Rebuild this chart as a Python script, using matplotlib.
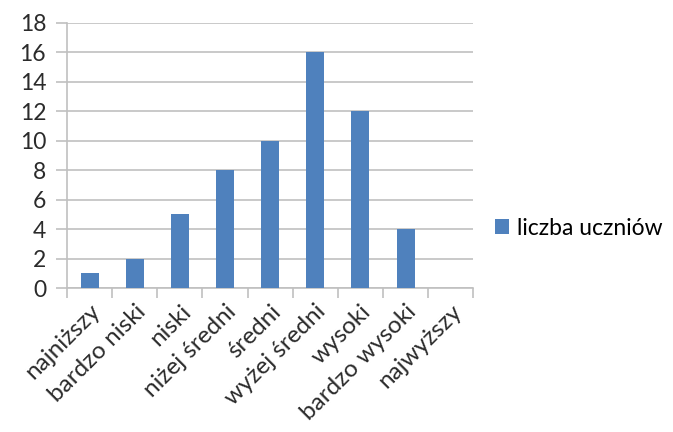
import matplotlib
matplotlib.use("Agg")
import matplotlib.pyplot as plt
import numpy as np

categories = ["najniższy", "bardzo niski", "niski", "niżej średni", "średni",
              "wyżej średni", "wysoki", "bardzo wysoki", "najwyższy"]
counts = [1, 2, 5, 8, 10, 16, 12, 4, 0]
series_name = "liczba uczniów"
y_ticks = list(range(0, 19, 2))

plt.rcParams['font.family'] = ['Lato', 'DejaVu Sans']

fig = plt.figure(figsize=(6.73, 4.32), dpi=100)
ax = fig.add_axes([0.0996, 0.333, 0.6036, 0.614])

x = np.arange(len(categories))
bars = ax.bar(x, counts, width=0.4, color="#4F81BD", zorder=3, label=series_name)

ax.set_xlim(-0.5, len(categories) - 0.5)
ax.set_ylim(0, 18)
ax.set_yticks(y_ticks)
ax.set_yticklabels([str(v) for v in y_ticks], fontsize=16.5, color="#2b2b2b")
ax.yaxis.grid(True, color="#C0C0C0", linewidth=1.2, zorder=0)
ax.tick_params(axis='y', length=8, color="#C0C0C0", width=1.2, pad=7)

# category labels centred under bars, tick marks on category boundaries
ax.set_xticks(np.arange(-0.5, len(categories), 1.0))
ax.set_xticklabels([])
ax.tick_params(axis='x', length=7, color="#C0C0C0", width=1.2)
ax.set_xticks(x, minor=True)
ax.set_xticklabels(categories, minor=True, rotation=45, ha='right',
                   rotation_mode='anchor', fontsize=17.5, color="#2b2b2b")
ax.tick_params(axis='x', which='minor', length=0, pad=9)

for side in ["top", "right"]:
    ax.spines[side].set_visible(False)
for side in ["left", "bottom"]:
    ax.spines[side].set_color("#C0C0C0")
    ax.spines[side].set_linewidth(1.2)

fig.legend(handles=[bars], labels=[series_name], loc='center left',
           bbox_to_anchor=(0.722, 0.472), frameon=False, fontsize=16.5,
           handlelength=0.6, handleheight=0.6, handletextpad=0.35,
           borderaxespad=0.0)

fig.savefig("out.png", dpi=100)
